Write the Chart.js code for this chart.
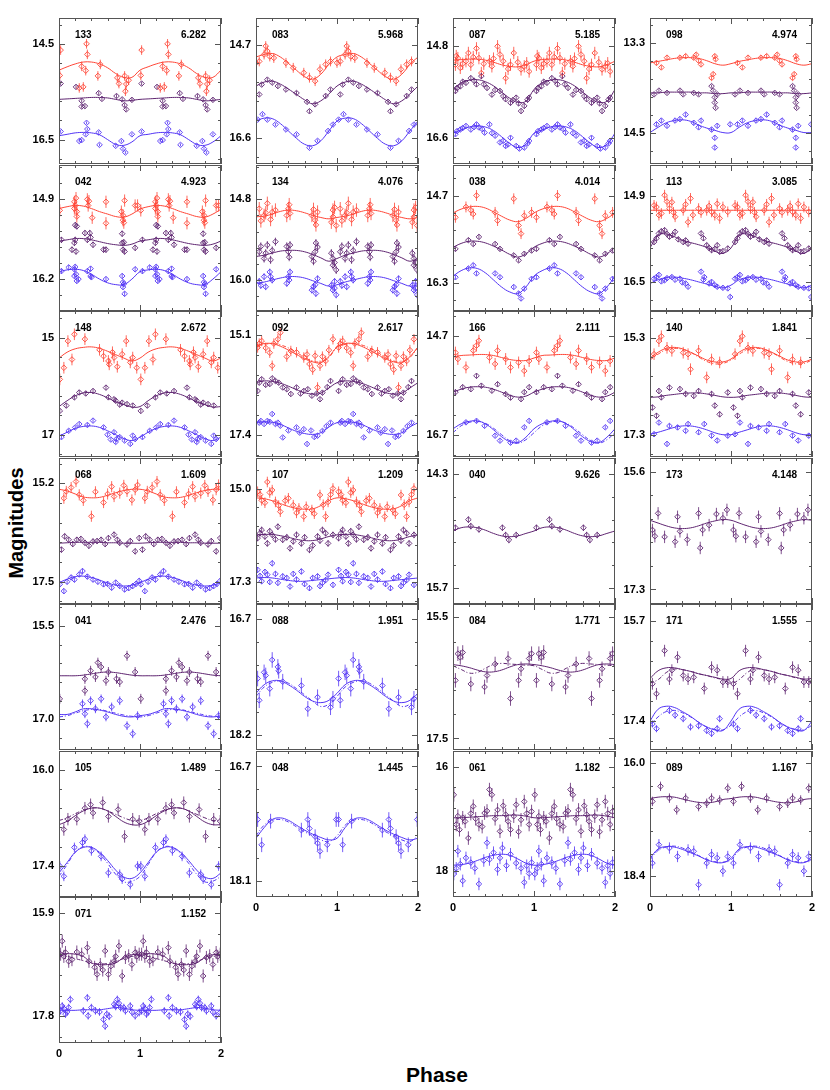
<!DOCTYPE html>
<html><head><meta charset="utf-8">
<script src="https://cdn.jsdelivr.net/npm/chart.js@4.4.0/dist/chart.umd.min.js"></script>
<style>
html,body{margin:0;padding:0;background:#fff;}
#fig{position:relative;width:830px;height:1090px;background:#fff;overflow:hidden;font-family:"Liberation Sans",Arial,Helvetica,sans-serif;}
#fig canvas{position:absolute;}
.ylab{position:absolute;left:16px;top:523px;transform:translate(-50%,-50%) rotate(-90deg);font-weight:bold;font-size:20px;white-space:nowrap;color:#000;}
.xlab{position:absolute;left:437px;top:1075px;transform:translate(-50%,-50%);font-weight:bold;font-size:21px;color:#000;}
</style></head><body>
<div id="fig"><div class="ylab">Magnitudes</div><div class="xlab">Phase</div></div>
<script>
// ---------- panel metadata ----------
const PANEL_IDS = ['133','083','087','098','042','134','038','113','148','092','166','140','068','107','040','173','041','088','084','171','105','048','061','089','071'];
const PERIODS = ['6.282','5.968','5.185','4.974','4.923','4.076','4.014','3.085','2.672','2.617','2.111','1.841','1.609','1.209','9.626','4.148','2.476','1.951','1.771','1.555','1.489','1.445','1.182','1.167','1.152'];
const Y_LABELS = [['14.5','16.5'],['14.7','16.6'],['14.8','16.6'],['13.3','14.5'],['14.9','16.2'],['14.8','16.0'],['14.7','16.3'],['14.9','16.5'],['15','17'],['15.1','17.4'],['14.7','16.7'],['15.3','17.3'],['15.2','17.5'],['15.0','17.3'],['14.3','15.7'],['15.6','17.3'],['15.5','17.0'],['16.7','18.2'],['15.5','17.5'],['15.7','17.4'],['16.0','17.4'],['16.7','18.1'],['16','18'],['16.0','18.4'],['15.9','17.8']];
const Y_RANGES = [[13.96,17.01],[14.16,17.12],[14.26,17.1],[12.97,14.92],[14.34,16.72],[14.29,16.46],[14.14,16.82],[14.32,17.03],[14.45,17.46],[14.55,17.91],[14.2,17.15],[14.75,17.76],[14.61,18.02],[14.25,17.84],[14.1,15.9],[15.4,17.51],[15.15,17.49],[16.51,18.39],[15.28,17.69],[15.42,17.89],[15.73,17.85],[16.51,18.3],[15.7,18.5],[15.74,18.84],[15.61,18.29]];
const X_TICK_LABELS = ['0','1','2'];
const FIT_PHASES = [0,0.1,0.2,0.3,0.4,0.5,0.6,0.7,0.8,0.9,1.0];

// ---------- observations [phase, mag] (phase 0-1, plotted twice) and fitted curves (at FIT_PHASES) ----------
const d133r=[[0.02,14.63],[0.01,15.16],[0.25,15.42],[0.3,15.4],[0.28,14.97],[0.33,15.06],[0.34,14.5],[0.35,14.72],[0.48,15.17],[0.51,14.93],[0.72,15.21],[0.74,15.33],[0.81,15.17],[0.83,15.34],[0.86,15.26],[0.82,15.49]];
const f133r=[15.05,14.98,14.92,14.88,14.88,14.92,15.0,15.12,15.2,15.2,15.05];
const d133p=[[0.02,15.33],[0.21,15.40],[0.28,15.69],[0.28,15.81],[0.32,15.8],[0.49,15.53],[0.53,15.65],[0.71,15.59],[0.81,15.78],[0.83,15.87],[0.78,15.66],[0.9,15.67]];
const f133p=[15.66,15.65,15.64,15.63,15.62,15.62,15.63,15.66,15.69,15.68,15.66];
const d133b=[[0.02,16.33],[0.25,16.53],[0.28,16.51],[0.34,16.15],[0.35,16.28],[0.33,16.39],[0.49,16.35],[0.5,16.61],[0.7,16.63],[0.77,16.53],[0.79,16.69],[0.82,16.77],[0.9,16.39]];
const f133b=[16.42,16.39,16.36,16.35,16.36,16.4,16.5,16.6,16.62,16.55,16.42];
const e133=[0.1,0.04,0.03];

const d083r=[[0.0,15.07],[0.04,15.04],[0.1,14.9],[0.14,14.83],[0.17,14.94],[0.22,14.97],[0.37,15.07],[0.46,15.17],[0.59,15.27],[0.66,15.37],[0.73,15.44],[0.79,15.2],[0.86,15.1],[0.92,15.04],[0.12,14.73]];
const f083r=[14.95,14.9,14.88,14.95,15.08,15.22,15.35,15.4,15.3,15.1,14.95];
const d083p=[[0.04,15.71],[0.07,15.51],[0.14,15.41],[0.2,15.47],[0.27,15.54],[0.37,15.61],[0.5,15.68],[0.63,15.86],[0.66,16.05],[0.73,15.91],[0.86,15.74],[0.92,15.61]];
const f083p=[15.54,15.46,15.44,15.5,15.6,15.71,15.82,15.9,15.84,15.7,15.54];
const d083b=[[0.02,16.22],[0.08,16.11],[0.14,16.22],[0.24,16.32],[0.37,16.42],[0.5,16.52],[0.66,16.79],[0.76,16.65],[0.89,16.45],[0.95,16.32]];
const f083b=[16.25,16.19,16.2,16.3,16.45,16.6,16.72,16.75,16.65,16.45,16.25];
const e083=[0.1,0.04,0.03];

const d087r=[[0.03,15.17],[0.06,15.04],[0.09,15.23],[0.16,15.1],[0.19,14.94],[0.22,15.17],[0.29,14.85],[0.32,15.04],[0.35,15.33],[0.45,15.1],[0.48,15.2],[0.55,14.81],[0.58,14.97],[0.65,15.43],[0.71,15.17],[0.75,14.94],[0.84,15.26],[0.91,15.14],[0.94,15.3],[0.04,15.0],[0.12,15.15],[0.25,15.02],[0.38,15.15],[0.5,15.05],[0.62,15.1],[0.68,15.25],[0.8,15.12],[0.88,15.2]];
const f087r=[15.08,15.07,15.06,15.06,15.08,15.12,15.17,15.2,15.21,15.17,15.1];
const d087p=[[0.03,15.68],[0.09,15.59],[0.16,15.52],[0.22,15.43],[0.29,15.55],[0.35,15.39],[0.42,15.62],[0.48,15.75],[0.58,15.68],[0.65,15.84],[0.71,15.91],[0.78,15.81],[0.84,16.07],[0.88,15.97],[0.94,15.81],[0.05,15.62],[0.12,15.5],[0.26,15.48],[0.38,15.55],[0.52,15.66],[0.62,15.78],[0.74,15.86],[0.81,15.92],[0.92,15.85]];
const f087p=[15.65,15.52,15.47,15.46,15.5,15.58,15.7,15.82,15.9,15.88,15.65];
const d087b=[[0.03,16.52],[0.09,16.43],[0.16,16.36],[0.22,16.43],[0.29,16.33],[0.32,16.39],[0.39,16.49],[0.45,16.33],[0.52,16.55],[0.58,16.68],[0.65,16.75],[0.71,16.59],[0.78,16.75],[0.88,16.78],[0.94,16.65],[0.05,16.46],[0.12,16.4],[0.26,16.38],[0.36,16.42],[0.48,16.5],[0.62,16.65],[0.68,16.72],[0.82,16.8],[0.92,16.7]];
const f087b=[16.5,16.44,16.38,16.36,16.38,16.45,16.57,16.7,16.78,16.72,16.5];
const e087=[0.12,0.05,0.04];

const d098r=[[0.08,13.57],[0.14,13.63],[0.21,13.5],[0.37,13.5],[0.44,13.48],[0.54,13.5],[0.57,13.46],[0.6,13.54],[0.63,13.59],[0.76,13.77],[0.78,13.72],[0.8,13.48],[0.81,13.52]];
const f098r=[13.57,13.55,13.53,13.51,13.5,13.5,13.51,13.54,13.58,13.6,13.58];
const d098p=[[0.05,13.99],[0.11,13.94],[0.21,13.97],[0.37,13.94],[0.41,13.99],[0.54,13.97],[0.6,13.99],[0.76,13.88],[0.78,13.94],[0.8,14.03],[0.8,14.1],[0.81,14.17],[0.83,13.99]];
const f098p=[13.97,13.97,13.96,13.96,13.96,13.96,13.97,13.97,13.98,13.98,13.97];
const d098b=[[0.08,14.39],[0.14,14.34],[0.21,14.41],[0.31,14.34],[0.37,14.32],[0.44,14.26],[0.54,14.37],[0.6,14.43],[0.63,14.34],[0.76,14.46],[0.8,14.57],[0.8,14.7],[0.83,14.41],[0.99,14.39]];
const f098b=[14.5,14.43,14.37,14.34,14.33,14.35,14.4,14.44,14.47,14.5,14.5];
const e098=[0.03,0.02,0.03];

const d042r=[[0.01,15.08],[0.19,14.94],[0.19,15.05],[0.22,15.1],[0.22,15.18],[0.35,14.9],[0.37,14.93],[0.58,14.94],[0.79,15.16],[0.79,15.24],[0.81,14.92],[0.94,15.0],[0.58,15.29],[0.2,15.0],[0.21,14.88],[0.36,15.0],[0.41,15.2],[0.77,15.1],[0.8,15.28],[0.97,15.0]];
const f042r=[15.05,15.02,15.0,15.01,15.05,15.1,15.14,15.18,15.19,15.14,15.06];
const d042p=[[0.03,15.56],[0.16,15.72],[0.19,15.61],[0.22,15.34],[0.32,15.45],[0.35,15.56],[0.42,15.64],[0.58,15.72],[0.78,15.61],[0.79,15.72],[0.81,15.75],[0.94,15.69],[0.2,15.32],[0.2,15.56],[0.21,15.75],[0.38,15.45],[0.39,15.52],[0.55,15.72],[0.78,15.46],[0.8,15.6]];
const f042p=[15.58,15.56,15.54,15.54,15.56,15.59,15.62,15.64,15.65,15.63,15.58];
const d042b=[[0.03,16.07],[0.12,16.01],[0.19,16.04],[0.19,16.15],[0.22,16.23],[0.35,16.07],[0.39,16.15],[0.58,16.2],[0.79,16.25],[0.79,16.33],[0.81,16.44],[0.94,16.04],[0.2,16.0],[0.21,16.12],[0.24,16.2],[0.39,16.03],[0.4,16.17],[0.78,16.15],[0.8,16.28]];
const f042b=[16.08,16.05,16.04,16.06,16.12,16.2,16.26,16.29,16.29,16.2,16.08];
const e042=[0.1,0.05,0.04];

const d134r=[[0.04,14.94],[0.1,15.04],[0.14,14.86],[0.2,14.99],[0.24,14.96],[0.4,14.94],[0.42,15.01],[0.69,15.04],[0.73,15.11],[0.76,14.99],[0.95,15.06],[0.95,14.96],[0.99,15.19],[0.06,15.12],[0.12,15.0],[0.18,15.1],[0.38,15.04],[0.41,14.88],[0.71,14.95],[0.74,15.18],[0.93,15.14],[0.97,14.92]];
const f134r=[15.06,15.05,15.02,14.98,14.96,14.97,15.0,15.04,15.07,15.09,15.07];
const d134p=[[0.04,15.58],[0.1,15.68],[0.14,15.48],[0.2,15.56],[0.24,15.43],[0.4,15.58],[0.42,15.48],[0.69,15.65],[0.73,15.58],[0.76,15.51],[0.95,15.78],[0.95,15.68],[0.99,15.85],[0.06,15.5],[0.12,15.6],[0.18,15.7],[0.38,15.5],[0.41,15.66],[0.71,15.72],[0.74,15.45],[0.93,15.6],[0.97,15.74]];
const f134p=[15.65,15.63,15.6,15.57,15.56,15.56,15.58,15.62,15.67,15.72,15.68];
const d134b=[[0.04,16.02],[0.1,15.95],[0.17,15.88],[0.2,16.0],[0.4,15.95],[0.42,15.88],[0.69,16.15],[0.73,16.07],[0.76,15.98],[0.95,16.15],[0.97,16.02],[0.99,16.22],[0.06,16.08],[0.12,16.1],[0.18,15.95],[0.38,16.05],[0.41,16.0],[0.71,16.1],[0.74,16.2],[0.93,16.08],[0.97,16.12]];
const f134b=[16.05,16.03,16.0,15.97,15.95,15.95,15.97,16.01,16.05,16.09,16.07];
const e134=[0.1,0.06,0.05];

const d038r=[[0.03,15.1],[0.16,14.91],[0.22,14.97],[0.29,14.7],[0.25,15.04],[0.52,15.01],[0.55,15.16],[0.75,14.76],[0.81,15.25],[0.84,15.4],[0.88,15.07],[0.97,15.01]];
const f038r=[15.02,14.95,14.91,14.9,14.93,15.0,15.08,15.15,15.18,15.12,15.02];
const d038p=[[0.03,15.68],[0.19,15.52],[0.25,15.59],[0.32,15.46],[0.52,15.59],[0.58,15.68],[0.75,15.8],[0.81,15.89],[0.88,15.77],[0.97,15.71]];
const f038p=[15.65,15.58,15.54,15.54,15.57,15.63,15.7,15.78,15.83,15.77,15.65];
const d038b=[[0.03,16.2],[0.19,16.04],[0.25,15.98],[0.29,16.13],[0.52,16.13],[0.58,16.2],[0.75,16.38],[0.81,16.5],[0.84,16.59],[0.88,16.41],[0.97,16.23]];
const f038b=[16.18,16.08,16.03,16.04,16.12,16.25,16.38,16.47,16.5,16.38,16.18];
const e038=[0.1,0.04,0.04];

const d113r=[[0.05,15.07],[0.11,15.25],[0.18,14.88],[0.24,15.13],[0.27,15.01],[0.31,15.28],[0.41,15.16],[0.47,15.38],[0.5,14.94],[0.6,15.13],[0.7,15.16],[0.76,15.19],[0.83,15.04],[0.86,15.31],[0.96,15.19],[0.08,15.1],[0.14,15.22],[0.21,15.0],[0.29,15.2],[0.44,15.05],[0.53,15.25],[0.63,15.2],[0.73,15.08],[0.8,15.25],[0.9,15.1]];
const f113r=[15.16,15.16,15.16,15.16,15.16,15.16,15.16,15.16,15.16,15.16,15.16];
const d113p=[[0.05,15.75],[0.11,15.59],[0.18,15.53],[0.24,15.65],[0.31,15.56],[0.41,15.75],[0.47,15.78],[0.63,15.59],[0.7,15.81],[0.76,15.9],[0.83,15.81],[0.86,15.93],[0.96,15.87],[0.08,15.68],[0.14,15.55],[0.21,15.6],[0.28,15.62],[0.35,15.7],[0.44,15.72],[0.66,15.68],[0.73,15.86],[0.8,15.88],[0.9,15.92]];
const f113p=[15.86,15.62,15.6,15.65,15.72,15.76,15.8,15.85,15.92,15.96,15.86];
const d113b=[[0.05,16.43],[0.11,16.36],[0.18,16.46],[0.27,16.4],[0.37,16.43],[0.44,16.52],[0.47,16.58],[0.63,16.3],[0.67,16.4],[0.76,16.49],[0.83,16.58],[0.96,16.61],[0.99,16.77],[0.08,16.4],[0.14,16.48],[0.21,16.42],[0.31,16.45],[0.4,16.5],[0.66,16.45],[0.73,16.52],[0.8,16.55],[0.9,16.6]];
const f113b=[16.52,16.45,16.41,16.4,16.42,16.45,16.49,16.53,16.57,16.6,16.55];
const e113=[0.1,0.05,0.04];

const d148r=[[0.01,15.86],[0.06,15.62],[0.11,15.07],[0.16,15.45],[0.19,14.93],[0.32,15.03],[0.55,15.38],[0.61,15.48],[0.68,15.41],[0.78,15.34],[0.83,15.07],[0.88,15.51],[0.91,15.41],[0.96,15.62],[0.62,15.55],[0.66,15.3],[0.72,15.6],[0.5,15.25]];
const f148r=[15.42,15.3,15.23,15.2,15.19,15.22,15.28,15.35,15.42,15.48,15.42];
const d148p=[[0.01,16.51],[0.09,16.4],[0.19,16.23],[0.25,16.13],[0.42,16.1],[0.58,16.03],[0.61,16.23],[0.68,16.27],[0.78,16.34],[0.84,16.37],[0.91,16.4],[0.7,16.3],[0.75,16.38],[0.33,16.15]];
const f148p=[16.42,16.3,16.2,16.14,16.13,16.17,16.24,16.32,16.38,16.43,16.42];
const d148b=[[0.03,17.05],[0.12,16.92],[0.25,16.78],[0.42,16.71],[0.55,16.85],[0.68,16.95],[0.71,17.09],[0.81,17.12],[0.88,17.19],[0.94,17.09],[0.91,17.02],[0.6,17.0],[0.64,17.1],[0.7,17.15],[0.75,17.05],[0.2,16.85],[0.35,16.8]];
const f148b=[17.03,16.95,16.87,16.83,16.82,16.85,16.92,17.0,17.08,17.12,17.05];
const e148=[0.12,0.05,0.04];

const d092r=[[0.02,15.39],[0.07,15.24],[0.17,15.51],[0.2,15.81],[0.27,15.2],[0.3,15.05],[0.43,15.47],[0.59,15.62],[0.66,15.77],[0.73,15.58],[0.79,15.81],[0.76,16.31],[0.86,15.7],[0.95,15.2],[0.04,15.3],[0.12,15.4],[0.22,15.3],[0.38,15.6],[0.5,15.5],[0.63,15.55],[0.7,15.9],[0.82,15.6],[0.9,15.45]];
const f092r=[15.35,15.3,15.3,15.36,15.45,15.55,15.65,15.72,15.74,15.6,15.38];
const d092p=[[0.02,16.39],[0.07,16.12],[0.17,16.23],[0.24,16.16],[0.33,16.31],[0.43,16.46],[0.5,16.31],[0.59,16.39],[0.69,16.5],[0.79,16.58],[0.82,16.43],[0.92,16.16],[0.04,16.2],[0.12,16.25],[0.2,16.1],[0.28,16.2],[0.38,16.35],[0.55,16.45],[0.64,16.35],[0.75,16.45],[0.88,16.3]];
const f092p=[16.2,16.16,16.17,16.21,16.28,16.36,16.43,16.46,16.44,16.32,16.2];
const d092b=[[0.04,17.12],[0.14,17.08],[0.2,16.92],[0.24,17.15],[0.3,17.19],[0.33,17.46],[0.5,17.23],[0.59,17.27],[0.63,17.61],[0.76,17.42],[0.82,17.31],[0.92,17.12],[0.06,17.08],[0.1,17.15],[0.17,17.1],[0.27,17.12],[0.4,17.3],[0.54,17.35],[0.68,17.3],[0.72,17.45],[0.87,17.2]];
const f092b=[17.12,17.1,17.11,17.16,17.24,17.32,17.37,17.39,17.35,17.22,17.12];
const g092r=[15.38,15.32,15.3,15.33,15.4,15.5,15.62,15.7,15.72,15.62,15.38];
const e092=[0.12,0.05,0.04];

const d166r=[[0.03,15.04],[0.06,15.17],[0.16,15.34],[0.25,15.0],[0.29,14.9],[0.32,14.8],[0.45,15.14],[0.52,15.27],[0.55,15.0],[0.65,15.17],[0.71,15.34],[0.81,15.24],[0.88,15.41],[0.94,15.21]];
const f166r=[15.13,15.1,15.09,15.08,15.08,15.1,15.14,15.18,15.2,15.2,15.15];
const d166p=[[0.03,15.84],[0.12,15.74],[0.22,15.78],[0.29,15.51],[0.35,15.71],[0.48,15.81],[0.55,15.68],[0.65,15.88],[0.71,15.95],[0.84,15.98],[0.88,15.84],[0.94,15.74]];
const f166p=[15.84,15.78,15.74,15.73,15.74,15.78,15.84,15.9,15.94,15.92,15.84];
const d166b=[[0.16,16.45],[0.29,16.42],[0.39,16.52],[0.52,16.72],[0.58,16.82],[0.71,16.86],[0.78,16.82],[0.88,16.55],[0.94,16.42]];
const f166b=[16.58,16.48,16.43,16.42,16.48,16.6,16.74,16.84,16.86,16.75,16.58];
const g166b=[16.66,16.52,16.45,16.43,16.47,16.57,16.7,16.82,16.87,16.8,16.66];
const e166=[0.12,0.05,0.04];

const d140r=[[0.05,15.64],[0.11,15.37],[0.14,15.27],[0.21,15.51],[0.27,15.57],[0.41,15.61],[0.47,15.64],[0.5,15.95],[0.6,15.57],[0.7,16.12],[0.76,15.75],[0.86,15.81]];
const f140r=[15.72,15.6,15.52,15.5,15.53,15.6,15.68,15.76,15.8,15.8,15.74];
const g140r=[15.76,15.64,15.55,15.52,15.54,15.6,15.7,15.79,15.84,15.83,15.76];
const d140p=[[0.03,16.74],[0.08,16.91],[0.11,16.4],[0.14,16.53],[0.24,16.33],[0.37,16.36],[0.44,16.46],[0.54,16.5],[0.6,16.4],[0.76,16.46],[0.8,16.7],[0.86,16.88],[0.96,16.43]];
const f140p=[16.53,16.52,16.49,16.47,16.45,16.44,16.44,16.46,16.49,16.52,16.53];
const d140b=[[0.05,17.29],[0.11,17.05],[0.21,17.49],[0.24,17.12],[0.34,17.15],[0.44,17.22],[0.47,17.08],[0.6,17.25],[0.67,17.08],[0.76,17.32],[0.83,17.42],[0.96,17.32]];
const f140b=[17.29,17.25,17.2,17.15,17.12,17.12,17.15,17.2,17.26,17.3,17.3];
const e140=[0.12,0.06,0.05];

const d068r=[[0.06,15.55],[0.09,15.39],[0.21,15.16],[0.25,15.47],[0.4,15.97],[0.65,15.28],[0.68,15.51],[0.75,15.43],[0.84,15.39],[0.9,15.59],[0.94,15.35],[0.97,15.24],[0.15,15.3],[0.3,15.6],[0.45,15.4],[0.55,15.65],[0.6,15.45],[0.8,15.25]];
const f068r=[15.34,15.38,15.45,15.52,15.54,15.53,15.48,15.42,15.37,15.34,15.34];
const d068p=[[0.03,16.75],[0.07,16.44],[0.12,16.52],[0.22,16.52],[0.32,16.59],[0.42,16.56],[0.52,16.52],[0.61,16.48],[0.68,16.4],[0.75,16.59],[0.84,16.63],[0.94,16.79],[0.99,16.48],[0.17,16.62],[0.27,16.5],[0.37,16.66],[0.47,16.55],[0.57,16.62],[0.72,16.52],[0.88,16.55]];
const f068p=[16.6,16.59,16.58,16.58,16.58,16.58,16.59,16.59,16.6,16.6,16.6];
const d068b=[[0.01,17.56],[0.06,17.72],[0.19,17.45],[0.25,17.33],[0.29,17.25],[0.42,17.45],[0.55,17.56],[0.65,17.64],[0.75,17.6],[0.81,17.68],[0.91,17.6],[0.99,17.48],[0.1,17.5],[0.15,17.4],[0.35,17.38],[0.48,17.5],[0.6,17.55],[0.7,17.52],[0.86,17.65],[0.95,17.55]];
const f068b=[17.52,17.44,17.38,17.37,17.4,17.46,17.53,17.58,17.6,17.58,17.52];
const e068=[0.13,0.07,0.06];

const d107r=[[0.02,15.08],[0.07,15.29],[0.14,14.84],[0.2,15.04],[0.24,15.33],[0.3,15.57],[0.4,15.24],[0.46,15.41],[0.53,15.49],[0.59,15.69],[0.69,15.53],[0.79,15.16],[0.86,15.69],[0.89,15.33],[0.95,15.0],[0.05,15.15],[0.11,15.35],[0.17,15.1],[0.28,15.42],[0.36,15.3],[0.5,15.6],[0.62,15.45],[0.72,15.62],[0.83,15.4],[0.92,15.15]];
const f107r=[15.23,15.25,15.3,15.37,15.44,15.49,15.51,15.5,15.42,15.3,15.23];
const d107p=[[0.02,16.22],[0.07,16.02],[0.14,16.35],[0.2,16.14],[0.27,15.94],[0.33,16.26],[0.42,16.47],[0.5,16.14],[0.56,16.35],[0.66,16.51],[0.76,16.18],[0.82,16.02],[0.89,16.35],[0.95,16.14],[0.05,16.1],[0.11,16.18],[0.17,16.05],[0.24,16.25],[0.38,16.2],[0.46,16.3],[0.6,16.2],[0.7,16.4],[0.79,16.28],[0.86,16.1]];
const f107p=[16.14,16.13,16.13,16.16,16.2,16.25,16.28,16.28,16.24,16.18,16.14];
const d107b=[[0.02,17.0],[0.07,17.28],[0.14,17.12],[0.2,16.84],[0.27,17.32],[0.33,17.16],[0.42,17.41],[0.5,17.24],[0.56,17.04],[0.66,17.45],[0.76,17.16],[0.82,17.32],[0.89,17.12],[0.95,17.37],[0.05,17.15],[0.11,17.05],[0.17,17.3],[0.24,17.1],[0.38,17.2],[0.46,17.1],[0.6,17.35],[0.7,17.2],[0.79,17.4],[0.86,17.25]];
const f107b=[17.2,17.19,17.2,17.23,17.26,17.28,17.28,17.26,17.24,17.22,17.2];
const e107=[0.13,0.08,0.07];

const d040p=[[0.03,14.96],[0.19,14.86],[0.22,14.94],[0.32,14.98],[0.61,14.96],[0.65,15.05],[0.69,15.11],[0.78,15.05]];
const f040p=[15.0,14.96,14.95,14.96,14.99,15.03,15.06,15.07,15.06,15.03,15.0];
const e040=[0.04];

const d173p=[[0.03,16.44],[0.06,16.53],[0.1,16.2],[0.18,16.54],[0.31,16.61],[0.34,16.25],[0.37,16.46],[0.46,16.58],[0.6,16.2],[0.62,16.7],[0.65,16.44],[0.73,16.37],[0.82,16.21],[0.9,16.27],[0.95,16.15]];
const f173p=[16.3,16.34,16.38,16.41,16.42,16.41,16.38,16.34,16.31,16.29,16.3];
const e173=[0.09];

const d041p=[[0.01,16.67],[0.32,16.54],[0.32,16.35],[0.39,16.22],[0.45,16.32],[0.48,16.09],[0.52,16.16],[0.58,16.38],[0.61,16.24],[0.71,16.35],[0.75,16.4],[0.84,15.98],[0.94,16.24]];
const f041p=[16.3,16.3,16.3,16.29,16.27,16.25,16.24,16.25,16.27,16.29,16.3];
const d041b=[[0.29,16.75],[0.32,16.91],[0.35,17.07],[0.39,16.7],[0.45,16.83],[0.52,16.67],[0.58,16.96],[0.65,16.8],[0.75,16.7],[0.84,17.1],[0.91,17.23],[0.97,16.94]];
const f041b=[16.92,16.92,16.88,16.83,16.83,16.85,16.88,16.92,16.95,16.96,16.94];
const g041b=[16.96,16.94,16.9,16.86,16.84,16.84,16.87,16.9,16.93,16.95,16.96];
const e041=[0.08,0.07];

const d088b=[[0.02,17.47],[0.04,17.75],[0.1,17.39],[0.12,17.43],[0.17,17.6],[0.2,17.23],[0.27,17.32],[0.28,17.37],[0.33,17.51],[0.56,17.56],[0.64,17.86],[0.76,17.71],[0.92,17.84],[0.95,17.73]];
const f088b=[17.66,17.55,17.5,17.5,17.55,17.62,17.7,17.76,17.78,17.75,17.66];
const g088b=[17.7,17.58,17.52,17.5,17.53,17.6,17.68,17.76,17.83,17.8,17.7];
const e088=[0.1];

const d084p=[[0.03,16.54],[0.06,16.1],[0.09,16.16],[0.12,16.08],[0.22,16.6],[0.39,16.65],[0.42,16.46],[0.52,16.27],[0.68,16.18],[0.71,16.84],[0.81,16.54],[0.84,16.35],[0.94,16.18],[0.97,16.1]];
const f084p=[16.28,16.3,16.33,16.37,16.4,16.4,16.37,16.32,16.28,16.27,16.28];
const g084p=[16.3,16.36,16.42,16.41,16.34,16.28,16.26,16.27,16.28,16.29,16.3];
const e084=[0.12];

const d171p=[[0.03,16.77],[0.08,16.94],[0.18,16.21],[0.24,16.69],[0.27,16.54],[0.34,16.32],[0.41,16.63],[0.47,16.69],[0.54,16.66],[0.67,16.85],[0.76,16.49],[0.83,16.54],[0.9,16.74],[0.96,16.74]];
const f171p=[16.68,16.55,16.5,16.5,16.53,16.56,16.6,16.63,16.66,16.69,16.68];
const g171p=[16.76,16.7,16.58,16.52,16.53,16.56,16.6,16.63,16.67,16.7,16.76];
const d171b=[[0.03,17.45],[0.08,17.53],[0.24,17.22],[0.31,17.3],[0.41,17.36],[0.5,17.5],[0.6,17.48],[0.7,17.56],[0.76,17.61],[0.83,17.53],[0.86,17.36]];
const f171b=[17.4,17.2,17.15,17.17,17.24,17.32,17.42,17.5,17.55,17.56,17.4];
const g171b=[17.47,17.33,17.24,17.22,17.26,17.33,17.42,17.5,17.54,17.55,17.47];
const e171=[0.1,0.06];

const d105p=[[0.06,16.87],[0.11,16.72],[0.22,16.72],[0.32,16.56],[0.39,16.51],[0.42,16.63],[0.54,16.48],[0.61,16.68],[0.73,16.58],[0.81,16.97],[0.91,16.72],[0.99,16.75]];
const f105p=[16.8,16.75,16.67,16.6,16.56,16.56,16.6,16.68,16.76,16.8,16.8];
const g105p=[16.74,16.7,16.64,16.59,16.56,16.56,16.6,16.65,16.7,16.74,16.74];
const d105b=[[0.01,17.4],[0.06,17.55],[0.19,17.13],[0.29,17.06],[0.32,17.01],[0.4,17.18],[0.52,17.26],[0.61,17.5],[0.75,17.52],[0.78,17.59],[0.88,17.67],[0.97,17.4]];
const f105b=[17.5,17.35,17.2,17.13,17.13,17.2,17.32,17.46,17.56,17.58,17.5];
const g105b=[17.55,17.38,17.2,17.12,17.13,17.22,17.36,17.52,17.63,17.62,17.55];
const e105=[0.09,0.07];

const d048b=[[0.02,17.35],[0.07,17.66],[0.18,17.37],[0.56,17.48],[0.64,17.35],[0.66,17.46],[0.73,17.56],[0.76,17.64],[0.79,17.74],[0.88,17.66],[0.99,17.35]];
const f048b=[17.58,17.45,17.35,17.33,17.36,17.42,17.48,17.53,17.57,17.6,17.58];
const g048b=[17.55,17.42,17.36,17.35,17.38,17.44,17.5,17.55,17.6,17.62,17.55];
const e048=[0.09];

const d061p=[[0.01,16.54],[0.04,17.11],[0.08,17.21],[0.12,16.98],[0.19,17.37],[0.25,16.76],[0.32,17.11],[0.39,16.89],[0.45,16.44],[0.48,16.54],[0.55,16.83],[0.58,17.24],[0.65,16.92],[0.71,17.21],[0.78,16.73],[0.84,17.02],[0.88,16.67],[0.94,17.11],[0.97,16.86],[0.06,16.95],[0.15,17.05],[0.22,16.9],[0.28,17.0],[0.36,17.15],[0.42,16.85],[0.52,17.0],[0.62,16.75],[0.68,17.05],[0.75,16.95],[0.81,17.25],[0.91,16.9]];
const f061p=[16.98,16.98,16.97,16.96,16.95,16.94,16.94,16.93,16.93,16.95,16.98];
const d061b=[[0.01,18.06],[0.06,17.62],[0.09,17.87],[0.12,18.19],[0.22,17.84],[0.32,18.25],[0.42,17.46],[0.45,17.78],[0.55,17.97],[0.61,17.56],[0.71,17.68],[0.88,18.22],[0.91,17.9],[0.97,17.84],[0.04,17.95],[0.16,17.75],[0.27,17.95],[0.38,17.8],[0.5,17.65],[0.58,17.75],[0.66,17.9],[0.78,17.85],[0.84,17.95],[0.94,18.05]];
const f061b=[17.89,17.88,17.85,17.8,17.74,17.7,17.68,17.7,17.77,17.85,17.89];
const e061=[0.13,0.12];

const d089p=[[0.03,16.81],[0.13,16.49],[0.24,16.74],[0.33,16.99],[0.44,16.74],[0.6,16.92],[0.7,16.85],[0.76,16.74],[0.86,16.78],[0.96,16.53]];
const f089p=[16.75,16.72,16.71,16.72,16.76,16.8,16.83,16.84,16.82,16.77,16.75];
const d089b=[[0.03,18.12],[0.11,17.73],[0.24,17.8],[0.34,17.98],[0.47,17.84],[0.54,17.87],[0.6,18.58],[0.7,18.12],[0.76,17.94],[0.83,18.01],[0.9,18.29],[0.96,17.98]];
const f089b=[18.02,17.82,17.77,17.78,17.83,17.9,17.97,18.05,18.1,18.11,18.02];
const g089b=[18.05,17.85,17.78,17.76,17.8,17.88,17.96,18.04,18.09,18.1,18.05];
const e089=[0.1,0.12];

const d071p=[[0.02,16.66],[0.04,16.42],[0.08,16.63],[0.12,16.79],[0.16,16.76],[0.35,16.54],[0.37,16.79],[0.47,17.03],[0.51,16.85],[0.57,16.6],[0.61,17.03],[0.68,16.79],[0.74,16.51],[0.78,17.06],[0.82,16.72],[0.86,16.69],[0.9,16.85],[0.94,16.63],[0.99,16.66],[0.06,16.7],[0.22,16.62],[0.28,16.66],[0.44,16.9],[0.54,16.95],[0.64,16.88],[0.7,16.7],[0.96,16.7]];
const f071p=[16.66,16.65,16.66,16.7,16.82,16.85,16.85,16.82,16.72,16.67,16.66];
const g071p=[16.68,16.7,16.74,16.78,16.82,16.84,16.83,16.79,16.74,16.7,16.68];
const d071b=[[0.02,17.7],[0.04,17.61],[0.08,17.76],[0.12,17.64],[0.14,17.49],[0.35,17.46],[0.36,17.79],[0.45,17.7],[0.55,17.86],[0.57,17.98],[0.59,17.76],[0.68,17.58],[0.72,17.49],[0.76,17.64],[0.82,17.7],[0.88,17.61],[0.94,17.79],[0.99,17.73],[0.06,17.66],[0.1,17.72],[0.3,17.7],[0.4,17.64],[0.5,17.72],[0.62,17.8],[0.7,17.62],[0.74,17.56],[0.8,17.64],[0.9,17.72]];
const f071b=[17.69,17.69,17.69,17.68,17.68,17.68,17.66,17.64,17.65,17.68,17.69];
const e071=[0.12,0.07];

// series per panel: [band, points, solid fit, dash-dot fit (optional)]
const PANEL_SERIES = [
 [['red',d133r,f133r],['purple',d133p,f133p],['blue',d133b,f133b]],
 [['red',d083r,f083r],['purple',d083p,f083p],['blue',d083b,f083b]],
 [['red',d087r,f087r],['purple',d087p,f087p],['blue',d087b,f087b]],
 [['red',d098r,f098r],['purple',d098p,f098p],['blue',d098b,f098b]],
 [['red',d042r,f042r],['purple',d042p,f042p],['blue',d042b,f042b]],
 [['red',d134r,f134r],['purple',d134p,f134p],['blue',d134b,f134b]],
 [['red',d038r,f038r],['purple',d038p,f038p],['blue',d038b,f038b]],
 [['red',d113r,f113r],['purple',d113p,f113p],['blue',d113b,f113b]],
 [['red',d148r,f148r],['purple',d148p,f148p],['blue',d148b,f148b]],
 [['red',d092r,f092r,g092r],['purple',d092p,f092p],['blue',d092b,f092b]],
 [['red',d166r,f166r],['purple',d166p,f166p],['blue',d166b,f166b,g166b]],
 [['red',d140r,f140r,g140r],['purple',d140p,f140p],['blue',d140b,f140b]],
 [['red',d068r,f068r],['purple',d068p,f068p],['blue',d068b,f068b]],
 [['red',d107r,f107r],['purple',d107p,f107p],['blue',d107b,f107b]],
 [['purple',d040p,f040p]],
 [['purple',d173p,f173p]],
 [['purple',d041p,f041p],['blue',d041b,f041b,g041b]],
 [['blue',d088b,f088b,g088b]],
 [['purple',d084p,f084p,g084p]],
 [['purple',d171p,f171p,g171p],['blue',d171b,f171b,g171b]],
 [['purple',d105p,f105p,g105p],['blue',d105b,f105b,g105b]],
 [['blue',d048b,f048b,g048b]],
 [['purple',d061p,f061p],['blue',d061b,f061b]],
 [['purple',d089p,f089p],['blue',d089b,f089b,g089b]],
 [['purple',d071p,f071p,g071p],['blue',d071b,f071b]]
];
const PANEL_ERRORS = [e133,e083,e087,e098,e042,e134,e038,e113,e148,e092,e166,e140,e068,e107,e040,e173,e041,e088,e084,e171,e105,e048,e061,e089,e071];
const X_LABEL_PANELS = ['071','048','061','089'];

// ---------- layout / style ----------
const COLORS = {red:'#ff4536', purple:'#5e2470', blue:'#5234f5'};
const COL_X = [59,256,453,650], ROW_Y = [18,165,311,458,604,751,897];
const PW = 162, PH = 146;
const PAD = {left:46, top:8, right:8, bottom:24};
const FONT = '"Liberation Sans", Arial, Helvetica, sans-serif';

function twoCycles(pts){
  const out=[];
  pts.forEach(([p,m])=>{ out.push({x:p,y:m}); out.push({x:p+1,y:m}); });
  return out;
}
function fitCurve(f){
  const out=[];
  for(let k=0;k<=20;k++){
    const ph = k<=10 ? FIT_PHASES[k] : 1+FIT_PHASES[k-10];
    out.push({x:ph, y: k<=10 ? f[k] : f[k-10]});
  }
  return out;
}

const framePlugin = {
  id:'frame',
  beforeDatasetsDraw(chart){
    const ctx=chart.ctx, a=chart.chartArea, ys=chart.scales.y;
    ctx.save();
    ctx.beginPath(); ctx.rect(a.left,a.top,a.right-a.left,a.bottom-a.top); ctx.clip();
    chart.data.datasets.forEach((ds,i)=>{
      if(!ds.err) return;
      const meta=chart.getDatasetMeta(i);
      ctx.strokeStyle=ds.borderColor; ctx.lineWidth=0.8;
      ctx.beginPath();
      meta.data.forEach((el,j)=>{
        const v=ds.data[j].y;
        ctx.moveTo(el.x, ys.getPixelForValue(v-ds.err));
        ctx.lineTo(el.x, ys.getPixelForValue(v+ds.err));
      });
      ctx.stroke();
    });
    ctx.restore();
  },
  afterDraw(chart, args, o){
    const ctx=chart.ctx, a=chart.chartArea, xs=chart.scales.x, ys=chart.scales.y;
    ctx.save();
    ctx.strokeStyle='#555'; ctx.lineWidth=1;
    ctx.strokeRect(a.left+0.5, a.top+0.5, a.right-a.left-1, a.bottom-a.top-1);
    ctx.beginPath();
    for(let i=0;i<=10;i++){
      const v=i*0.2, px=Math.round(xs.getPixelForValue(v))+0.5, len=(i%5===0)?6:3;
      ctx.moveTo(px,a.bottom); ctx.lineTo(px,a.bottom-len);
      ctx.moveTo(px,a.top); ctx.lineTo(px,a.top+len);
    }
    const t1=parseFloat(o.labels[0]), t2=parseFloat(o.labels[1]), step=(t2-t1)/5;
    const kmin=Math.ceil((ys.min-t1)/step-1e-6), kmax=Math.floor((ys.max-t1)/step+1e-6);
    for(let k=kmin;k<=kmax;k++){
      const v=t1+k*step, py=Math.round(ys.getPixelForValue(v))+0.5, len=(k===0||k===5)?6:3;
      ctx.moveTo(a.left,py); ctx.lineTo(a.left+len,py);
      ctx.moveTo(a.right,py); ctx.lineTo(a.right-len,py);
    }
    ctx.stroke();
    ctx.fillStyle='#000';
    ctx.font='bold 11px '+FONT; ctx.textAlign='right'; ctx.textBaseline='middle';
    o.labels.forEach(l=>{ ctx.fillText(l, a.left-5, ys.getPixelForValue(parseFloat(l))); });
    ctx.font='bold 10px '+FONT; ctx.textAlign='left';
    ctx.fillText(o.id, a.left+16, a.top+17);
    ctx.textAlign='right';
    ctx.fillText(o.period, a.right-15, a.top+17);
    if(o.xlabels){
      ctx.font='bold 11px '+FONT; ctx.textAlign='center'; ctx.textBaseline='top';
      X_TICK_LABELS.forEach(l=>{ ctx.fillText(l, xs.getPixelForValue(parseFloat(l)), a.bottom+5); });
    }
    ctx.restore();
  }
};

const fig=document.getElementById('fig');
PANEL_IDS.forEach((id,idx)=>{
  const col=idx%4, row=Math.floor(idx/4);
  const cv=document.createElement('canvas');
  const W=PW+PAD.left+PAD.right, H=PH+PAD.top+PAD.bottom;
  cv.width=W; cv.height=H;
  cv.style.left=(COL_X[col]-PAD.left)+'px';
  cv.style.top=(ROW_Y[row]-PAD.top)+'px';
  cv.style.width=W+'px'; cv.style.height=H+'px';
  fig.appendChild(cv);
  const datasets=[];
  PANEL_SERIES[idx].forEach((s,si)=>{
    const c=COLORS[s[0]];
    datasets.push({type:'line', data:fitCurve(s[2]), borderColor:c, borderWidth:1, pointRadius:0, tension:0.4, fill:false, order:2});
    if(s[3]) datasets.push({type:'line', data:fitCurve(s[3]), borderColor:c, borderWidth:1, borderDash:[4,2,1,2], pointRadius:0, tension:0.4, fill:false, order:2});
    datasets.push({type:'scatter', data:twoCycles(s[1]), borderColor:c, backgroundColor:'rgba(0,0,0,0)', pointStyle:'rectRot', pointRadius:2.8, borderWidth:0.9, err:PANEL_ERRORS[idx][si], order:1});
  });
  new Chart(cv,{
    data:{datasets},
    options:{
      responsive:false, animation:false, devicePixelRatio:1,
      layout:{padding:PAD},
      plugins:{legend:{display:false}, tooltip:{enabled:false},
        frame:{id, period:PERIODS[idx], labels:Y_LABELS[idx], xlabels:X_LABEL_PANELS.includes(id)}},
      scales:{
        x:{type:'linear', min:0, max:2, display:false},
        y:{type:'linear', min:Y_RANGES[idx][0], max:Y_RANGES[idx][1], reverse:true, display:false}
      }
    },
    plugins:[framePlugin]
  });
});
</script>
</body></html>
